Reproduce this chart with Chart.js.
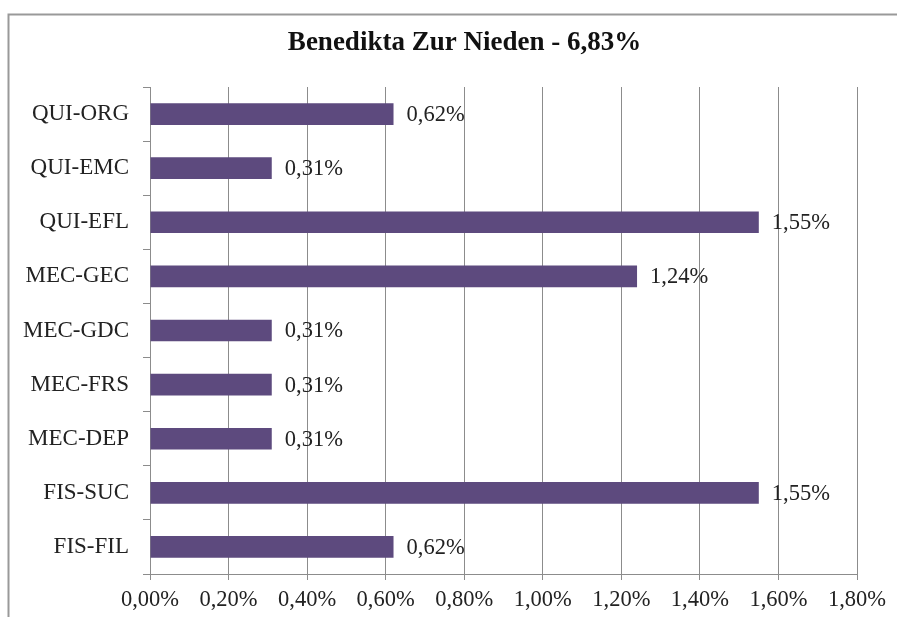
<!DOCTYPE html>
<html>
<head>
<meta charset="utf-8">
<script src="https://cdn.jsdelivr.net/npm/chart.js@4"></script>
<style>
  html, body { margin: 0; background: #fff; overflow: hidden; }
  canvas { display: block; }
</style>
</head>
<body>
<canvas id="myChart" width="897" height="617"></canvas>
<script>
const chartTitle = 'Benedikta Zur Nieden - 6,83%';
const categories = ['QUI-ORG', 'QUI-EMC', 'QUI-EFL', 'MEC-GEC', 'MEC-GDC', 'MEC-FRS', 'MEC-DEP', 'FIS-SUC', 'FIS-FIL'];
const values = [0.62, 0.31, 1.55, 1.24, 0.31, 0.31, 0.31, 1.55, 0.62];
const axisMin = 0;
const axisMax = 1.8;
const axisStep = 0.2;

const serif = '"Liberation Serif", "Times New Roman", serif';
const barColor = '#5D4A7E';
const lineColor = '#8c8c8c';

// turn 0.62 into "0,62%"
function pct(v) {
  return Number(v).toFixed(2).replace('.', ',') + '%';
}

// grey frame round the whole picture
const framePlugin = {
  id: 'frame',
  beforeDraw(chart) {
    const c = chart.ctx;
    c.save();
    c.fillStyle = '#fff';
    c.fillRect(0, 0, chart.width, chart.height);
    c.strokeStyle = '#999';
    c.lineWidth = 2;
    c.beginPath();
    c.moveTo(chart.width, 14.5);
    c.lineTo(8.5, 14.5);
    c.lineTo(8.5, chart.height);
    c.stroke();
    c.restore();
  }
};

// title is not centred on the canvas in the original, so it is drawn here
const titlePlugin = {
  id: 'sideTitle',
  afterDraw(chart) {
    const c = chart.ctx;
    c.save();
    c.font = 'bold 27px ' + serif;
    c.fillStyle = '#111';
    c.textAlign = 'center';
    c.textBaseline = 'middle';
    c.fillText(chartTitle, 464.5, 43);
    c.restore();
  }
};

// value labels to the right of each bar
const valueLabels = {
  id: 'valueLabels',
  afterDatasetsDraw(chart) {
    const c = chart.ctx;
    const meta = chart.getDatasetMeta(0);
    c.save();
    c.font = '22.5px ' + serif;
    c.fillStyle = '#222';
    c.textAlign = 'left';
    c.textBaseline = 'middle';
    meta.data.forEach((bar, i) => {
      c.fillText(pct(values[i]), bar.x + 13, bar.y + 1);
    });
    c.restore();
  }
};

const ctx = document.getElementById('myChart').getContext('2d');
const myChart = new Chart(ctx, {
  type: 'bar',
  data: {
    labels: categories,
    datasets: [{
      data: values,
      backgroundColor: barColor,
      borderWidth: 0,
      categoryPercentage: 1,
      barPercentage: 0.4
    }]
  },
  options: {
    indexAxis: 'y',
    responsive: false,
    animation: false,
    layout: {
      padding: { left: 0, right: 40, top: 87, bottom: 0 }
    },
    plugins: {
      legend: { display: false },
      tooltip: { enabled: false },
      title: { display: false }
    },
    scales: {
      x: {
        min: axisMin,
        max: axisMax,
        afterFit(scale) { scale.height = 43; },
        ticks: {
          stepSize: axisStep,
          color: '#222',
          padding: 7,
          font: { family: serif, size: 22.5 },
          callback: (v) => pct(v)
        },
        grid: { color: lineColor, tickLength: 6 },
        border: { color: lineColor }
      },
      y: {
        afterFit(scale) { scale.width = 150; },
        ticks: {
          color: '#222',
          padding: 14,
          font: { family: serif, size: 23 }
        },
        grid: { drawOnChartArea: false, color: lineColor, tickLength: 7 },
        border: { color: lineColor }
      }
    }
  },
  plugins: [framePlugin, valueLabels, titlePlugin]
});
</script>
</body>
</html>
